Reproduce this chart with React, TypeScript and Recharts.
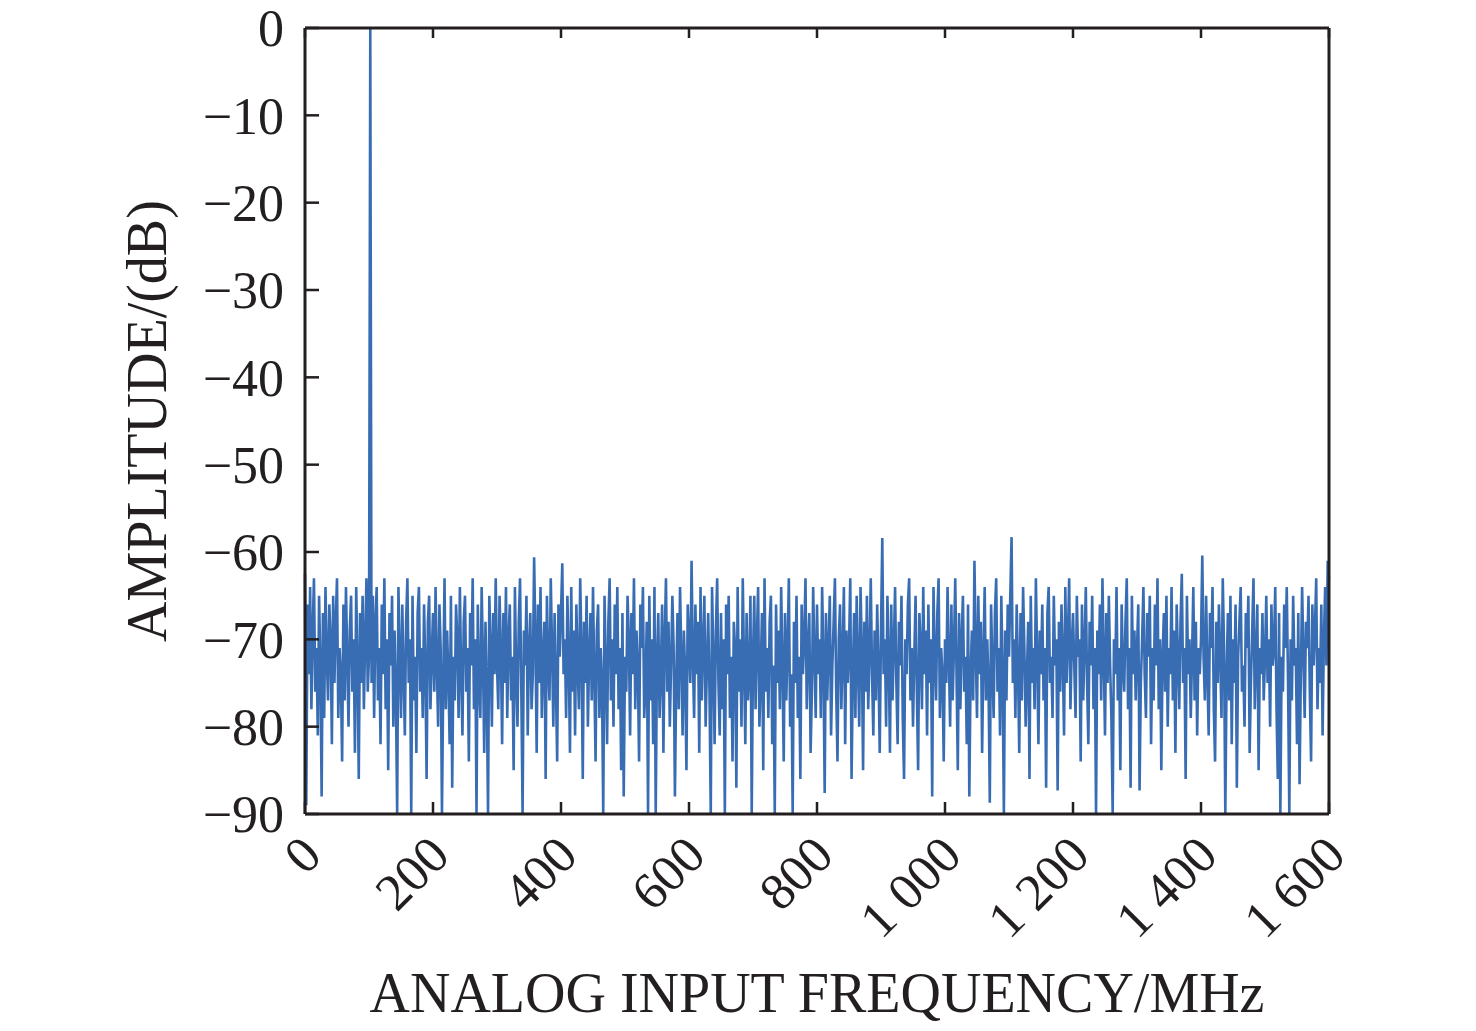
import { LineChart, Line, XAxis, YAxis } from "recharts";

// spectrum read every 2 MHz, one array per 100 MHz span
const FREQ_STEP = 2;

const s0000 = [
  -62.5, -89, -66, -74, -64, -78, -69, -63, -76, -71, -81, -65, -73, -88, -67, -79, -64, -72, -77, -66,
  -70, -82, -65, -75, -68, -63, -79, -71, -74, -84, -66, -77, -64, -72, -80, -69, -65, -76, -70, -83,
  -64, -73, -86, -67, -75, -65, -78, -70, -63, -76,
];
const s0100 = [
  -72, 0, -75, -65, -79, -68, -64, -77, -71, -82, -66, -74, -63, -78, -70, -85, -67, -73, -65, -80,
  -69, -76, -90, -64, -72, -79, -66, -74, -81, -68, -63, -75, -70, -90, -65, -77, -72, -83, -67, -64,
  -76, -71, -79, -66, -73, -86, -68, -65, -78, -72,
];
const s0200 = [
  -67, -76, -64, -73, -80, -66, -71, -90, -75, -63, -78, -69, -74, -82, -65, -87, -72, -77, -66, -70,
  -79, -64, -74, -81, -68, -65, -76, -71, -84, -67, -73, -63, -78, -70, -90, -66, -75, -79, -64, -72,
  -83, -68, -76, -90, -65, -71, -80, -67, -74, -63,
];
const s0300 = [
  -73, -78, -65, -71, -82, -67, -75, -64, -79, -70, -66, -77, -72, -85, -64, -74, -80, -68, -63, -76,
  -90, -69, -73, -65, -81, -71, -67, -78, -74, -60.6, -70, -83, -66, -75, -64, -79, -72, -68, -86, -65,
  -73, -77, -63, -71, -80, -67, -75, -84, -66, -72,
];
const s0400 = [
  -67, -61.3, -74, -70, -79, -65, -72, -83, -64, -76, -69, -81, -66, -73, -78, -63, -71, -86, -68, -75,
  -65, -80, -72, -67, -77, -64, -74, -84, -69, -66, -79, -71, -75, -90, -65, -73, -82, -68, -63, -77,
  -70, -80, -66, -74, -64, -78, -71, -85, -67, -88,
];
const s0500 = [
  -72, -76, -65, -70, -81, -67, -74, -63, -78, -69, -73, -84, -66, -71, -64, -79, -75, -68, -90, -65,
  -77, -70, -82, -64, -90, -72, -67, -79, -74, -66, -83, -70, -63, -76, -68, -80, -73, -65, -71, -88,
  -75, -67, -78, -64, -72, -81, -69, -74, -85, -66,
];
const s0600 = [
  -70, -75, -61, -72, -79, -66, -74, -68, -83, -64, -77, -71, -65, -80, -73, -67, -76, -90, -64, -72,
  -82, -69, -63, -75, -81, -67, -78, -70, -90, -66, -74, -65, -79, -72, -84, -68, -71, -87, -64, -76,
  -70, -80, -63, -73, -82, -67, -77, -74, -65, -90,
];
const s0700 = [
  -72, -65, -78, -70, -64, -80, -74, -67, -85, -63, -76, -71, -79, -68, -65, -82, -73, -90, -66, -75,
  -69, -78, -64, -73, -84, -67, -77, -71, -63, -80, -74, -90, -68, -75, -65, -79, -72, -86, -66, -74,
  -70, -63, -78, -71, -67, -83, -76, -64, -72, -79,
];
const s0800 = [
  -66, -74, -70, -79, -64, -72, -87.6, -67, -77, -71, -65, -81, -73, -68, -63, -76, -84, -70, -66, -78,
  -72, -64, -82, -69, -75, -71, -63, -86, -74, -67, -79, -65, -73, -80, -64, -71, -85, -68, -76, -65,
  -78, -72, -63, -74, -81, -69, -77, -66, -73, -83,
];
const s0900 = [
  -69, -58.4, -74, -70, -80, -65, -72, -83, -66, -77, -71, -64, -75, -82, -68, -73, -65, -79, -86, -70,
  -74, -66, -63, -77, -71, -80, -72, -65, -76, -85, -67, -71, -78, -64, -74, -69, -81, -66, -75, -70,
  -88, -64, -72, -77, -67, -63, -79, -71, -74, -84,
];
const s1000 = [
  -70, -75, -64, -72, -80, -66, -77, -71, -63, -74, -85, -67, -78, -70, -65, -76, -72, -82, -66, -88,
  -74, -69, -77, -61, -71, -79, -65, -74, -68, -83, -72, -64, -77, -70, -75, -88.7, -66, -73, -79, -67,
  -63, -76, -71, -81, -65, -74, -90, -69, -77, -66,
];
const s1100 = [
  -72, -65, -58.3, -75, -70, -79, -66, -73, -83, -67, -77, -64, -71, -80, -74, -68, -86, -65, -75, -71,
  -78, -63, -72, -82, -69, -74, -66, -77, -71, -87, -67, -64, -75, -72, -79, -65, -73, -70, -87.3, -68,
  -76, -66, -72, -81, -64, -75, -70, -63, -78, -71,
];
const s1200 = [
  -67, -73, -79, -65, -72, -70, -84, -66, -77, -71, -64, -75, -82, -68, -73, -65, -78, -71, -90, -69,
  -74, -66, -77, -63, -72, -81, -67, -75, -65, -73, -79, -90, -70, -74, -64, -77, -71, -85, -66, -73,
  -76, -68, -63, -78, -71, -87, -65, -74, -69, -77,
];
const s1300 = [
  -71, -66, -87.3, -75, -70, -64, -74, -79, -67, -72, -65, -82, -71, -77, -66, -73, -63, -78, -70, -85,
  -72, -67, -76, -65, -80, -71, -74, -64, -77, -69, -83, -66, -72, -78, -68, -62.5, -75, -71, -86, -65,
  -74, -70, -79, -72, -64, -77, -68, -81, -71, -74,
];
const s1400 = [
  -70, -60.4, -72, -77, -65, -74, -81, -67, -71, -64, -78, -84, -68, -75, -66, -72, -79, -63, -71, -90,
  -74, -67, -77, -65, -82, -70, -75, -66, -87, -72, -68, -64, -76, -73, -80, -67, -71, -65, -83, -75,
  -69, -63, -78, -72, -66, -85, -71, -74, -67, -77,
];
const s1500 = [
  -72, -65, -75, -70, -80, -66, -73, -71, -64, -78, -86, -67, -90, -72, -76, -66, -71, -64, -75, -90,
  -70, -77, -65, -73, -71, -82, -67, -86.6, -74, -64, -72, -79, -68, -71, -65, -76, -84, -66, -73, -69,
  -63, -78, -71, -75, -66, -81, -70, -64, -73, -61, -63,
];

const segmentStarts = [0, 100, 200, 300, 400, 500, 600, 700, 800, 900, 1000, 1100, 1200, 1300, 1400, 1500];
const segments = [
  s0000, s0100, s0200, s0300, s0400, s0500, s0600, s0700,
  s0800, s0900, s1000, s1100, s1200, s1300, s1400, s1500,
];

const xTicks = [0, 200, 400, 600, 800, 1000, 1200, 1400, 1600];
const yTicks = [-90, -80, -70, -60, -50, -40, -30, -20, -10, 0];

const data = segments.flatMap((seg, k) =>
  seg.map((amp, i) => ({ freq: segmentStarts[k] + i * FREQ_STEP, amp }))
);

const FONT = '"Liberation Serif", "Times New Roman", serif';
const INK = "#231f20";

function fmtFreq(v: number) {
  // thousands split with a space, as in the figure
  return v >= 1000 ? `${Math.floor(v / 1000)} ${String(v % 1000).padStart(3, "0")}` : String(v);
}

function BottomTick({ x, y, payload }: any) {
  return (
    <g>
      <line x1={x} x2={x} y1={y} y2={y - 12} stroke={INK} strokeWidth={2.5} />
      <g transform={`translate(${x + 6},${y + 31})`}>
        <text
          transform="rotate(-45)"
          textAnchor="end"
          dy="0.35em"
          fontFamily={FONT}
          fontSize={52}
          fill={INK}
        >
          {fmtFreq(payload.value)}
        </text>
      </g>
    </g>
  );
}

function TopTick({ x, y }: any) {
  return <line x1={x} x2={x} y1={y} y2={y + 10} stroke={INK} strokeWidth={2.5} />;
}

function LeftTick({ x, y, payload }: any) {
  const label = payload.value < 0 ? `\u2212${Math.abs(payload.value)}` : String(payload.value);
  return (
    <g>
      <line x1={x} x2={x + 14} y1={y} y2={y} stroke={INK} strokeWidth={2.5} />
      <text x={x - 21} y={y} dy="0.35em" textAnchor="end" fontFamily={FONT} fontSize={52} fill={INK}>
        {label}
      </text>
    </g>
  );
}

function RightTick({ x, y }: any) {
  return <line x1={x} x2={x - 14} y1={y} y2={y} stroke={INK} strokeWidth={2.5} />;
}

const xTitle = () => (
  <text x={809} y={1012} textAnchor="middle" fontFamily={FONT} fontSize={56} fill={INK}>
    ANALOG INPUT FREQUENCY/MHz
  </text>
);

const yTitle = () => (
  <text
    x={138}
    y={421}
    textAnchor="middle"
    dy="0.35em"
    transform="rotate(-90 138 421)"
    fontFamily={FONT}
    fontSize={56}
    fill={INK}
  >
    AMPLITUDE/(dB)
  </text>
);

export default function App() {
  // negative top margin cancels the body margin so the full 1031px height is usable
  return (
    <div style={{ marginTop: -8 }}>
      <LineChart
        width={1460}
        height={1023}
        data={data}
        margin={{ top: 27, right: 138, left: 0, bottom: 0 }}
      >
        <XAxis
          xAxisId="b"
          dataKey="freq"
          type="number"
          domain={[0, 1600]}
          ticks={xTicks}
          height={209}
          tickSize={0}
          tickMargin={0}
          tickLine={false}
          axisLine={{ stroke: INK, strokeWidth: 3 }}
          tick={<BottomTick />}
          interval={0}
          label={{ value: "x", content: xTitle }}
        />
        <XAxis
          xAxisId="t"
          orientation="top"
          dataKey="freq"
          type="number"
          domain={[0, 1600]}
          ticks={xTicks}
          height={1}
          tickSize={0}
          tickMargin={0}
          tickLine={false}
          axisLine={{ stroke: INK, strokeWidth: 3 }}
          tick={<TopTick />}
          interval={0}
        />
        <YAxis
          yAxisId="l"
          type="number"
          domain={[-90, 0]}
          ticks={yTicks}
          width={297}
          tickSize={0}
          tickMargin={0}
          tickLine={false}
          axisLine={{ stroke: INK, strokeWidth: 3 }}
          tick={<LeftTick />}
          interval={0}
          allowDataOverflow
          label={{ value: "y", content: yTitle }}
        />
        <YAxis
          yAxisId="r"
          orientation="right"
          type="number"
          domain={[-90, 0]}
          ticks={yTicks}
          width={1}
          tickSize={0}
          tickMargin={0}
          tickLine={false}
          axisLine={{ stroke: INK, strokeWidth: 3 }}
          tick={<RightTick />}
          interval={0}
        />
        <Line
          xAxisId="b"
          yAxisId="l"
          dataKey="amp"
          type="linear"
          stroke="#386db4"
          strokeWidth={2.6}
          dot={false}
          isAnimationActive={false}
        />
      </LineChart>
    </div>
  );
}
